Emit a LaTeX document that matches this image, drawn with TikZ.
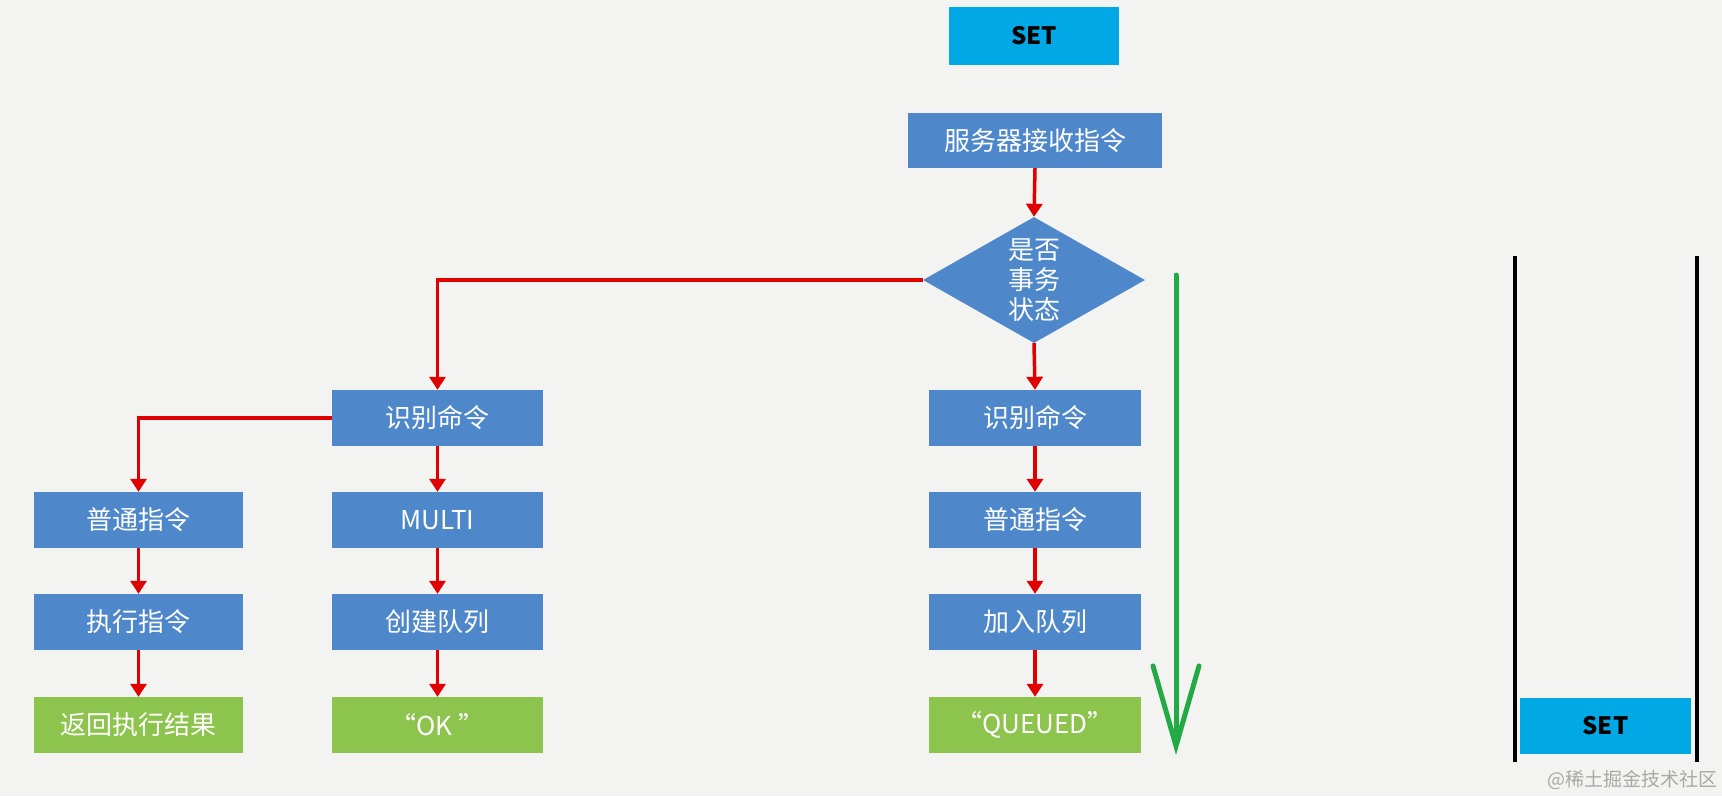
\documentclass[tikz,border=0pt]{standalone}
\usepackage{fontspec}
\setmainfont{Noto Sans CJK SC}
\usetikzlibrary{arrows.meta,shapes.geometric}
\definecolor{bgc}{HTML}{F3F4F2}
\definecolor{boxblue}{HTML}{4F87CB}
\definecolor{boxgreen}{HTML}{8CC44E}
\definecolor{setcyan}{HTML}{00A9E6}
\definecolor{arrred}{HTML}{E00000}
\definecolor{arrgreen}{HTML}{22AA44}
\definecolor{wmgray}{HTML}{A8A8A8}
\tikzset{
  bluebox/.style={rectangle, fill=boxblue, text=white, inner sep=0pt,
    minimum height=56pt, font=\fontsize{26}{30}\selectfont},
  greenbox/.style={bluebox, fill=boxgreen},
  setbox/.style={rectangle, fill=setcyan, text=black, inner sep=0pt,
    font=\fontsize{24}{28}\selectfont\bfseries},
  decbox/.style={diamond, fill=boxblue, text=white, inner sep=0pt, aspect=1.76,
    minimum width=222pt, minimum height=126pt, align=center,
    font=\fontsize{26}{30}\selectfont},
  redarrow/.style={draw=arrred, line width=3.5pt, -{Triangle[width=16pt,length=13pt]}},
}
\begin{document}
\begin{tikzpicture}[x=1pt,y=-1pt]
\fill[bgc] (0,0) rectangle (1722,796);
\useasboundingbox (0,0) rectangle (1722,796);

% top
\node[setbox, minimum width=170pt, minimum height=58pt] (set1) at (1034,36) {SET};
\node[bluebox, minimum width=254pt, minimum height=55pt] (recv) at (1035,140.5) {服务器接收指令};
\node[decbox] (dec) at (1034,280) {是否\\事务\\状态};

% left branch
\node[bluebox, minimum width=211pt] (l1) at (437.5,418) {识别命令};
\node[bluebox, minimum width=209pt] (n1) at (138.5,520) {普通指令};
\node[bluebox, minimum width=209pt] (n2) at (138.5,622) {执行指令};
\node[greenbox, minimum width=209pt] (n3) at (138.5,725) {返回执行结果};
\node[bluebox, minimum width=211pt] (m1) at (437.5,520) {MULTI};
\node[bluebox, minimum width=211pt] (m2) at (437.5,622) {创建队列};
\node[greenbox, minimum width=211pt] (m3) at (437.5,725) {“OK ”};

% right branch
\node[bluebox, minimum width=212pt] (r1) at (1035,418) {识别命令};
\node[bluebox, minimum width=212pt] (r2) at (1035,520) {普通指令};
\node[bluebox, minimum width=212pt] (r3) at (1035,622) {加入队列};
\node[greenbox, minimum width=212pt] (r4) at (1035,725) {“QUEUED”};

% red connectors
\draw[redarrow] (recv.south) -- (dec.north);
\draw[redarrow] (dec.west) -| (l1.north);
\draw[redarrow] (l1.west) -| (n1.north);
\draw[redarrow] (n1.south) -- (n2.north);
\draw[redarrow] (n2.south) -- (n3.north);
\draw[redarrow] (l1.south) -- (m1.north);
\draw[redarrow] (m1.south) -- (m2.north);
\draw[redarrow] (m2.south) -- (m3.north);
\draw[redarrow] (dec.south) -- (r1.north);
\draw[redarrow] (r1.south) -- (r2.north);
\draw[redarrow] (r2.south) -- (r3.north);
\draw[redarrow] (r3.south) -- (r4.north);

% green arrow
\coordinate (g1) at (1176,275);
\coordinate (g2) at (1176,755);
\draw[arrgreen, line width=5pt, line cap=round, -{Straight Barb[length=80pt,width=46pt,line cap=round]}] (g1) -- (g2);

% stack
\coordinate (s1t) at (1515,256);
\coordinate (s1b) at (1515,762);
\coordinate (s2t) at (1697,256);
\coordinate (s2b) at (1697,762);
\draw[black, line width=3.5pt] (s1t) -- (s1b);
\draw[black, line width=3.5pt] (s2t) -- (s2b);
\node[setbox, minimum width=171pt, minimum height=56pt] (set2) at (1605.5,726) {SET};

% watermark
\node[text=wmgray, font=\fontsize{19}{21}\selectfont, inner sep=0pt] (wm) at (1632,780) {@稀土掘金技术社区};
\end{tikzpicture}
\end{document}
